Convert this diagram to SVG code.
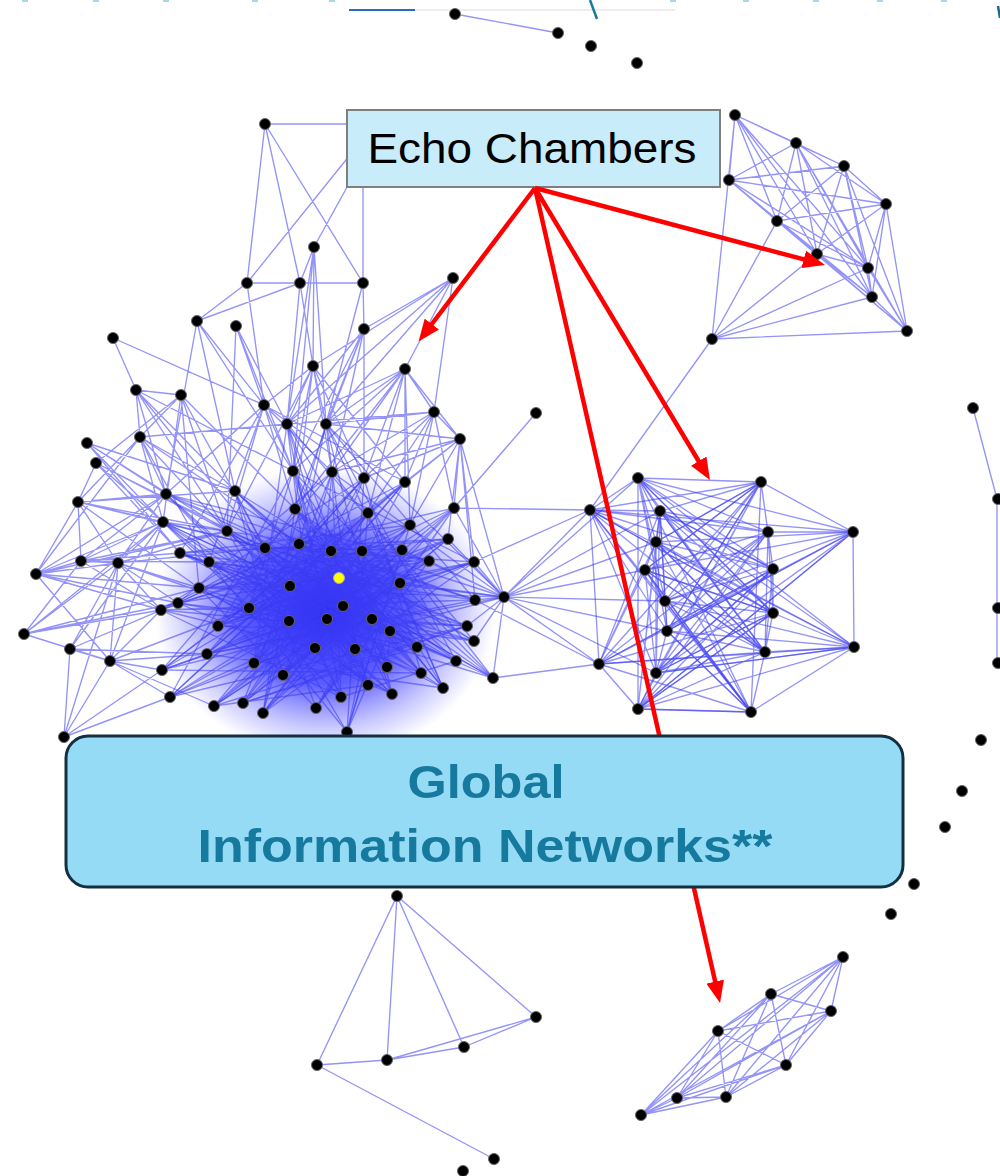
<svg xmlns="http://www.w3.org/2000/svg" width="1000" height="1176" viewBox="0 0 1000 1176">
<defs>
<style>
.e{fill:none;stroke:#3a3af2;stroke-opacity:0.55;stroke-width:1.35;stroke-linejoin:round}
.n{fill:#000;stroke:#666;stroke-width:1}
.arr{stroke:#f00;stroke-width:4.5;fill:none;marker-end:url(#ah)}
</style>
<radialGradient id="core" cx="0.5" cy="0.5" r="0.5">
<stop offset="0" stop-color="#1010ff" stop-opacity="0.9"/>
<stop offset="0.5" stop-color="#1818ff" stop-opacity="0.7"/>
<stop offset="0.8" stop-color="#2a2aff" stop-opacity="0.25"/>
<stop offset="1" stop-color="#3030ff" stop-opacity="0"/>
</radialGradient>
<marker id="ah" viewBox="0 0 22 18" refX="15" refY="9" markerWidth="22" markerHeight="18" markerUnits="userSpaceOnUse" orient="auto"><path d="M0 0L22 9L0 18z" fill="#f00"/></marker>
</defs>
<rect width="1000" height="1176" fill="#fff"/>
<g id="top-fragments">
<line x1="349" y1="10" x2="675" y2="10" stroke="#dddddd" stroke-width="1.2"/>
<line x1="349" y1="10" x2="415" y2="10" stroke="#2a6ebb" stroke-width="2"/>
<line x1="590" y1="0" x2="597" y2="19" stroke="#1a7a9a" stroke-width="2.5"/>
<line x1="998" y1="6" x2="1000" y2="18" stroke="#1a6a8a" stroke-width="2.5"/>
<g fill="#a8d8ee"><rect x="22" y="0" width="6" height="2"/><rect x="93" y="0" width="6" height="2"/><rect x="163" y="0" width="6" height="2"/><rect x="252" y="0" width="6" height="2"/><rect x="329" y="0" width="6" height="2"/><rect x="670" y="0" width="6" height="2"/><rect x="743" y="0" width="6" height="2"/><rect x="813" y="0" width="6" height="2"/><rect x="877" y="0" width="6" height="2"/><rect x="941" y="0" width="6" height="2"/></g>
</g>
<ellipse cx="325" cy="612" rx="170" ry="145" fill="url(#core)"/>
<g id="connectors">
<path class="e" d="M166 494 L331 551 L218 626 L405 482 L162 670 L343 606 L180 553 L443 688 L287 424 L315 648 L199 588 L504 597 L254 663 L364 478 L161 610 L390 631 L235 491 L316 708 L429 561 L178 603 L368 513 L170 697 L474 562 L293 471 L387 667 L209 562 L475 600 L207 654 L448 539 L289 621 L163 522 L456 661 L326 424 L392 694 L249 608 L410 525 L214 706 L400 583 L295 509 L493 678 L265 548 L355 649 L227 531 L467 626 L243 703 L362 551 L283 675 L454 508 L263 713 L332 472 L341 697 L290 586 L474 641 L299 544 L368 685 L327 619 L402 550 L347 732 L372 619 L421 673 L339 578"/>
<path class="e" d="M235 491 L417 647 L178 603 L362 551 L254 663 L326 424 L504 597 L180 553 L372 619 L170 697 L405 482 L207 654 L429 561 L166 494 L392 694 L295 509 L421 673 L249 608 L474 562 L162 670 L332 472 L315 648 L209 562 L467 626 L327 619 L287 424 L341 697 L163 522 L400 583 L263 713 L410 525 L283 675 L339 578 L199 588 L493 678 L293 471 L390 631 L218 626 L364 478 L347 732 L227 531 L456 661 L299 544 L475 600 L161 610 L343 606 L214 706 L454 508 L289 621 L368 685 L265 548 L402 550 L243 703 L448 539 L331 551 L443 688 L368 513 L355 649 L290 586 L387 667"/>
<path class="e" d="M339 578 L166 494 L467 626 L170 697 L448 539 L218 626 L295 509 L456 661 L180 553 L410 525 L254 663 L405 482 L161 610 L341 697 L235 491 L421 673 L162 670 L362 551 L504 597 L209 562 L327 619 L293 471 L368 685 L214 706 L429 561 L163 522 L355 649 L287 424 L474 641 L178 603 L299 544 L454 508 L249 608 L364 478 L283 675 L400 583 L199 588 L392 694 L227 531 L343 606 L263 713 L326 424 L443 688 L207 654 L368 513 L289 621 L474 562 L265 548 L417 647 L243 703 L332 472 L493 678 L290 586 L402 550 L316 708 L372 619 L331 551 L387 667 L390 631 L347 732"/>
<path class="e" d="M343 606 L163 522 L421 673 L364 478 L207 654 L504 597 L332 472 L178 603 L392 694 L287 424 L254 663 L429 561 L209 562 L347 732 L410 525 L161 610 L315 648 L405 482 L214 706 L467 626 L249 608 L293 471 L170 697 L402 550 L289 621 L166 494 L368 685 L339 578 L218 626 L474 562 L263 713 L295 509 L417 647 L180 553 L448 539 L283 675 L235 491 L474 641 L372 619 L162 670 L368 513 L243 703 L400 583 L299 544 L493 678 L265 548 L390 631 L227 531 L387 667 L362 551 L199 588 L316 708 L454 508 L355 649 L326 424 L475 600 L331 551 L443 688 L290 586 L456 661 L341 697"/>
<path class="e" d="M113 338 L136 390 M113 338 L264 405
M197 321 L247 283 M197 321 L264 405 L197 321 L235 491 L197 321 L166 494 L197 321 L293 471
M236 326 L287 424 L236 326 L264 405 L236 326 L293 471 L236 326 L227 531
M136 390 L166 494 L136 390 L227 531 L136 390 L235 491 L136 390 L293 471 L136 390 L140 437 L136 390 L265 548 L136 390 L181 395
M181 395 L140 437 L181 395 L96 463 L181 395 L227 531 L181 395 L265 548 L181 395 L199 588 L181 395 L163 522 L181 395 L295 509
M264 405 L166 494 L264 405 L227 531 L264 405 L293 471 L264 405 L332 472 L264 405 L295 509 L264 405 L180 553 L264 405 L209 562 L264 405 L405 482 L264 405 L364 478
M140 437 L78 502 L140 437 L166 494 L140 437 L163 522 L140 437 L235 491 L140 437 L227 531 L140 437 L209 562 L140 437 L299 544 L140 437 L287 424 L140 437 L36 574
M87 443 L166 494 L87 443 L163 522 L87 443 L180 553 L87 443 L227 531 L87 443 L235 491
M96 463 L163 522 L96 463 L227 531 L96 463 L78 502 L96 463 L180 553 L96 463 L265 548 L96 463 L209 562
M78 502 L166 494 L78 502 L227 531 L78 502 L163 522 L78 502 L81 561 L78 502 L118 563 L78 502 L199 588 L78 502 L36 574 L78 502 L265 548 L78 502 L235 491
M36 574 L81 561 L36 574 L118 563 L36 574 L163 522 L36 574 L166 494 L36 574 L110 661 L36 574 L178 603 L36 574 L199 588 L36 574 L161 610 L36 574 L227 531
M24 634 L81 561 L24 634 L118 563 L24 634 L110 661 L24 634 L161 610 L24 634 L178 603 L24 634 L163 522 L24 634 L199 588
M70 649 L64 737 M70 649 L110 661 L70 649 L161 610 L70 649 L163 522 L70 649 L178 603 L70 649 L118 563 L70 649 L207 654
M110 661 L118 563 L110 661 L163 522 L110 661 L162 670 L110 661 L170 697 L110 661 L207 654 L110 661 L161 610 L110 661 L214 706 L110 661 L249 608
M81 561 L118 563 L81 561 L163 522 L81 561 L180 553 L81 561 L161 610 L81 561 L227 531 L81 561 L166 494 L81 561 L209 562
M118 563 L161 610 L118 563 L199 588 L118 563 L163 522 L118 563 L166 494 L118 563 L178 603 L118 563 L249 608 L118 563 L227 531 L118 563 L265 548
M64 737 L162 670 L64 737 L118 563 L64 737 L170 697 L64 737 L110 661
M313 366 L287 424 L313 366 L326 424 L313 366 L264 405 L313 366 L293 471 L313 366 L364 478 L313 366 L332 472 L313 366 L295 509 L313 366 L405 482 L313 366 L227 531
M314 247 L287 424 L314 247 L313 366 L314 247 L326 424 L314 247 L300 283 L314 247 L293 471
M300 283 L287 424 M300 283 L313 366 M247 283 L264 405 M247 283 L363 283 M363 283 L326 424 M363 283 L364 329 M300 283 L197 321
M265 124 L362 124 M265 124 L247 283 M265 124 L300 283 M265 124 L363 283 M362 140 L247 283 M362 160 L314 247 M363 187 L363 283
M364 329 L287 424 L364 329 L326 424 L364 329 L293 471 L364 329 L332 472 L364 329 L453 278 L364 329 L295 509 L364 329 L364 478
M453 278 L287 424 L453 278 L326 424 L453 278 L405 369 L453 278 L313 366 L453 278 L434 412
M405 369 L326 424 L405 369 L364 478 L405 369 L405 482 L405 369 L368 513 L405 369 L332 472 L405 369 L434 412 L405 369 L460 439 L405 369 L293 471 L405 369 L410 525 L405 369 L295 509 L405 369 L287 424
M434 412 L405 482 L434 412 L364 478 L434 412 L332 472 L434 412 L454 508 L434 412 L410 525 L434 412 L326 424 L434 412 L368 513 L434 412 L287 424 L434 412 L460 439
M460 439 L405 482 L460 439 L454 508 L460 439 L474 562 L460 439 L410 525 L460 439 L364 478 L460 439 L368 513 L460 439 L448 539 L460 439 L332 472 L460 439 L475 600 L460 439 L326 424 L460 439 L504 597
M536 413 L454 508
M504 597 L590 510 L504 597 L599 664 L504 597 L645 570 L504 597 L638 478 L504 597 L656 542 L504 597 L665 601 L504 597 L660 511 L504 597 L667 631 L504 597 L656 673 L504 597 L474 562 L504 597 L475 600 L504 597 L474 641 L504 597 L448 539 L504 597 L467 626 L504 597 L493 678 L504 597 L454 508 L504 597 L429 561 L504 597 L402 550
M474 562 L590 510 M454 508 L590 510 M475 600 L599 664 M493 678 L599 664"/>
<path class="e" d="M638 478 L761 482 L590 510 L768 532 L660 511 L773 569 L656 542 L773 613 L645 570 L765 652 L665 601 L751 712 L667 631 L853 532 L599 664 L854 647 L656 673 L761 482 L638 709 L768 532 L638 478 L773 569 L590 510 L773 613 L660 511 L765 652 L656 542 L751 712 L645 570 L853 532 L665 601 L854 647 L667 631 L761 482 L599 664 L773 569 L656 673 L773 613 L638 709 L765 652"/>
<path class="e" d="M638 478 L660 511 L656 542 L645 570 L665 601 L667 631 L656 673 L638 709 L599 664 L590 510 L638 478 L853 532 L768 532 L773 569 L773 613 L765 652 L751 712 L854 647 L853 532 L761 482 L768 532 L773 613 L854 647 L765 652 L773 569 L761 482"/>
<path class="e" d="M590 510 L751 712 L638 478 L765 652 L660 511 L854 647 L656 542 L761 482 L665 601 L768 532 L667 631 L773 569 L599 664 L773 613 L656 673 L853 532 L638 709 L751 712 L645 570 L656 673 L590 510 L667 631 L638 478 L665 601 L660 511 L638 709 L656 542 L599 664 L645 570 L761 482 L667 631 L768 532 L656 673 L773 569 L638 709 L773 613 L590 510 L853 532 L656 542 L765 652 L645 570 L773 613 L638 478 L656 542"/>
<path class="e" d="M660 511 L761 482 L645 570 L768 532 L599 664 L765 652 L590 510 L854 647 L638 478 L773 613 L665 601 L773 569 L660 511 L667 631 L765 652 L656 673 L854 647 L638 709 L853 532 L667 631 L751 712 L665 601 L590 510 L660 511 L599 664 L751 712 L761 482 L656 542
M638 478 L638 709 M660 511 L656 673 M656 542 L656 673 M768 532 L765 652 M638 709 L751 712 M660 511 L667 631"/>
<path class="e" d="M735 115 L796 143 L844 166 L886 204 L907 331 L872 297 L868 268 L817 254 L777 221 L729 180 L735 115 L844 166 L729 180 L796 143 L886 204 L777 221 L844 166 L817 254 L735 115 L777 221 L872 297 L796 143 L868 268 L729 180 L817 254 L886 204 L872 297 L735 115 L868 268 L844 166 L907 331 L729 180 L872 297 L844 166 L777 221 L868 268 L886 204 L729 180 L907 331 L817 254 L796 143 L872 297 L817 254 L907 331 L777 221 L796 143 L907 331 L868 268
M712 339 L735 115 M712 339 L777 221 M712 339 L817 254 M712 339 L868 268 M712 339 L872 297 M712 339 L907 331 M712 339 L590 510"/>
<path class="e" d="M641 1115 L718 1031 L771 994 L843 957 L831 1011 L786 1065 L726 1097 L677 1098 L641 1115 L771 994 L831 1011 L718 1031 L843 957 L786 1065 L677 1098 L718 1031 L726 1097 L771 994 L786 1065 L641 1115 L843 957 L677 1098 L831 1011 L726 1097 L843 957 L718 1031 L786 1065 M641 1115 L831 1011 M641 1115 L726 1097 M677 1098 L771 994"/>
<path class="e" d="M397 896 L317 1065 M397 896 L387 1060 M397 896 L464 1047 M397 896 L536 1017 M317 1065 L387 1060 L464 1047 L536 1017 L387 1060 M317 1065 L494 1159"/>
<path class="e" d="M455 14 L558 33 M973 408 L997 499 L997 663"/>
</g>
<g id="main-cluster">
<circle class="n" cx="113" cy="338" r="5.5"/><circle class="n" cx="197" cy="321" r="5.5"/><circle class="n" cx="236" cy="326" r="5.5"/><circle class="n" cx="136" cy="390" r="5.5"/><circle class="n" cx="181" cy="395" r="5.5"/><circle class="n" cx="264" cy="405" r="5.5"/><circle class="n" cx="140" cy="437" r="5.5"/><circle class="n" cx="87" cy="443" r="5.5"/><circle class="n" cx="96" cy="463" r="5.5"/><circle class="n" cx="78" cy="502" r="5.5"/><circle class="n" cx="36" cy="574" r="5.5"/><circle class="n" cx="24" cy="634" r="5.5"/><circle class="n" cx="70" cy="649" r="5.5"/><circle class="n" cx="64" cy="737" r="5.5"/><circle class="n" cx="110" cy="661" r="5.5"/><circle class="n" cx="81" cy="561" r="5.5"/><circle class="n" cx="118" cy="563" r="5.5"/><circle class="n" cx="313" cy="366" r="5.5"/><circle class="n" cx="364" cy="329" r="5.5"/><circle class="n" cx="405" cy="369" r="5.5"/><circle class="n" cx="434" cy="412" r="5.5"/><circle class="n" cx="460" cy="439" r="5.5"/><circle class="n" cx="453" cy="278" r="5.5"/><circle class="n" cx="536" cy="413" r="5.5"/>
<circle class="n" cx="166" cy="494" r="5.5"/><circle class="n" cx="235" cy="491" r="5.5"/><circle class="n" cx="163" cy="522" r="5.5"/><circle class="n" cx="227" cy="531" r="5.5"/><circle class="n" cx="180" cy="553" r="5.5"/><circle class="n" cx="209" cy="562" r="5.5"/><circle class="n" cx="265" cy="548" r="5.5"/><circle class="n" cx="199" cy="588" r="5.5"/><circle class="n" cx="178" cy="603" r="5.5"/><circle class="n" cx="161" cy="610" r="5.5"/><circle class="n" cx="249" cy="608" r="5.5"/><circle class="n" cx="218" cy="626" r="5.5"/><circle class="n" cx="207" cy="654" r="5.5"/><circle class="n" cx="254" cy="663" r="5.5"/><circle class="n" cx="162" cy="670" r="5.5"/><circle class="n" cx="170" cy="697" r="5.5"/><circle class="n" cx="214" cy="706" r="5.5"/><circle class="n" cx="243" cy="703" r="5.5"/><circle class="n" cx="263" cy="713" r="5.5"/><circle class="n" cx="287" cy="424" r="5.5"/><circle class="n" cx="326" cy="424" r="5.5"/><circle class="n" cx="293" cy="471" r="5.5"/><circle class="n" cx="332" cy="472" r="5.5"/><circle class="n" cx="364" cy="478" r="5.5"/><circle class="n" cx="405" cy="482" r="5.5"/><circle class="n" cx="295" cy="509" r="5.5"/><circle class="n" cx="368" cy="513" r="5.5"/><circle class="n" cx="410" cy="525" r="5.5"/><circle class="n" cx="299" cy="544" r="5.5"/><circle class="n" cx="331" cy="551" r="5.5"/><circle class="n" cx="362" cy="551" r="5.5"/><circle class="n" cx="402" cy="550" r="5.5"/><circle class="n" cx="429" cy="561" r="5.5"/><circle class="n" cx="448" cy="539" r="5.5"/><circle class="n" cx="290" cy="586" r="5.5"/><circle class="n" cx="343" cy="606" r="5.5"/><circle class="n" cx="400" cy="583" r="5.5"/><circle class="n" cx="327" cy="619" r="5.5"/><circle class="n" cx="289" cy="621" r="5.5"/><circle class="n" cx="372" cy="619" r="5.5"/><circle class="n" cx="390" cy="631" r="5.5"/><circle class="n" cx="467" cy="626" r="5.5"/><circle class="n" cx="315" cy="648" r="5.5"/><circle class="n" cx="355" cy="649" r="5.5"/><circle class="n" cx="417" cy="647" r="5.5"/><circle class="n" cx="456" cy="661" r="5.5"/><circle class="n" cx="283" cy="675" r="5.5"/><circle class="n" cx="387" cy="667" r="5.5"/><circle class="n" cx="421" cy="673" r="5.5"/><circle class="n" cx="443" cy="688" r="5.5"/><circle class="n" cx="368" cy="685" r="5.5"/><circle class="n" cx="392" cy="694" r="5.5"/><circle class="n" cx="341" cy="697" r="5.5"/><circle class="n" cx="316" cy="708" r="5.5"/><circle class="n" cx="347" cy="732" r="5.5"/><circle class="n" cx="454" cy="508" r="5.5"/><circle class="n" cx="474" cy="562" r="5.5"/><circle class="n" cx="475" cy="600" r="5.5"/><circle class="n" cx="474" cy="641" r="5.5"/><circle class="n" cx="493" cy="678" r="5.5"/><circle class="n" cx="504" cy="597" r="5.5"/>
<circle id="seed" cx="339" cy="578" r="5.5" fill="#ffff00" stroke="#aaa" stroke-width="1"/>
</g>
<g id="top-left-cluster">
<circle class="n" cx="265" cy="124" r="5.5"/><circle class="n" cx="314" cy="247" r="5.5"/><circle class="n" cx="247" cy="283" r="5.5"/><circle class="n" cx="300" cy="283" r="5.5"/><circle class="n" cx="363" cy="283" r="5.5"/>
</g>
<g id="top-right-cluster">
<circle class="n" cx="735" cy="115" r="5.5"/><circle class="n" cx="796" cy="143" r="5.5"/><circle class="n" cx="844" cy="166" r="5.5"/><circle class="n" cx="886" cy="204" r="5.5"/><circle class="n" cx="729" cy="180" r="5.5"/><circle class="n" cx="777" cy="221" r="5.5"/><circle class="n" cx="817" cy="254" r="5.5"/><circle class="n" cx="868" cy="268" r="5.5"/><circle class="n" cx="872" cy="297" r="5.5"/><circle class="n" cx="907" cy="331" r="5.5"/><circle class="n" cx="712" cy="339" r="5.5"/>
</g>
<g id="mid-right-cluster">
<circle class="n" cx="638" cy="478" r="5.5"/><circle class="n" cx="761" cy="482" r="5.5"/><circle class="n" cx="590" cy="510" r="5.5"/><circle class="n" cx="660" cy="511" r="5.5"/><circle class="n" cx="656" cy="542" r="5.5"/><circle class="n" cx="645" cy="570" r="5.5"/><circle class="n" cx="768" cy="532" r="5.5"/><circle class="n" cx="853" cy="532" r="5.5"/><circle class="n" cx="773" cy="569" r="5.5"/><circle class="n" cx="665" cy="601" r="5.5"/><circle class="n" cx="773" cy="613" r="5.5"/><circle class="n" cx="667" cy="631" r="5.5"/><circle class="n" cx="765" cy="652" r="5.5"/><circle class="n" cx="854" cy="647" r="5.5"/><circle class="n" cx="599" cy="664" r="5.5"/><circle class="n" cx="656" cy="673" r="5.5"/><circle class="n" cx="638" cy="709" r="5.5"/><circle class="n" cx="751" cy="712" r="5.5"/>
</g>
<g id="bottom-right-cluster">
<circle class="n" cx="843" cy="957" r="5.5"/><circle class="n" cx="771" cy="994" r="5.5"/><circle class="n" cx="831" cy="1011" r="5.5"/><circle class="n" cx="718" cy="1031" r="5.5"/><circle class="n" cx="786" cy="1065" r="5.5"/><circle class="n" cx="677" cy="1098" r="5.5"/><circle class="n" cx="726" cy="1097" r="5.5"/><circle class="n" cx="641" cy="1115" r="5.5"/>
</g>
<g id="bottom-cluster">
<circle class="n" cx="397" cy="896" r="5.5"/><circle class="n" cx="317" cy="1065" r="5.5"/><circle class="n" cx="387" cy="1060" r="5.5"/><circle class="n" cx="464" cy="1047" r="5.5"/><circle class="n" cx="536" cy="1017" r="5.5"/><circle class="n" cx="494" cy="1159" r="5.5"/><circle class="n" cx="463" cy="1171" r="5.5"/>
</g>
<g id="stray-nodes">
<circle class="n" cx="455" cy="14" r="5.5"/><circle class="n" cx="558" cy="33" r="5.5"/><circle class="n" cx="591" cy="46" r="5.5"/><circle class="n" cx="637" cy="63" r="5.5"/>
<circle class="n" cx="973" cy="408" r="5.5"/><circle class="n" cx="998" cy="499" r="5.5"/><circle class="n" cx="998" cy="608" r="5.5"/><circle class="n" cx="998" cy="663" r="5.5"/>
<circle class="n" cx="981" cy="740" r="5.5"/><circle class="n" cx="962" cy="791" r="5.5"/><circle class="n" cx="945" cy="827" r="5.5"/><circle class="n" cx="914" cy="884" r="5.5"/><circle class="n" cx="891" cy="914" r="5.5"/>
</g>
<g id="echo-chambers">
<rect x="347" y="110" width="373" height="77" fill="#c8ecfa" stroke="#7f7f7f" stroke-width="2"/>
<text x="532" y="163" text-anchor="middle" font-family="Liberation Sans, Arial, sans-serif" font-size="43" fill="#000" textLength="329" lengthAdjust="spacingAndGlyphs">Echo Chambers</text>
</g>
<g id="arrows">
<line class="arr" x1="535" y1="188" x2="422.8" y2="336"/>
<line class="arr" x1="535" y1="188" x2="818.2" y2="263.2"/>
<line class="arr" x1="535" y1="188" x2="706.4" y2="474"/>
<line class="arr" x1="535" y1="188" x2="718.5" y2="996.2"/>
</g>
<g id="global-information-networks">
<rect x="66" y="736" width="837" height="151" rx="22" ry="22" fill="#96dbf6" stroke="#12303f" stroke-width="3"/>
<text x="486" y="798" text-anchor="middle" font-family="Liberation Sans, Arial, sans-serif" font-weight="bold" font-size="47" fill="#16799e" textLength="157" lengthAdjust="spacingAndGlyphs">Global</text>
<text x="485" y="862" text-anchor="middle" font-family="Liberation Sans, Arial, sans-serif" font-weight="bold" font-size="47" fill="#16799e" textLength="575" lengthAdjust="spacingAndGlyphs">Information Networks**</text>
</g>
</svg>
